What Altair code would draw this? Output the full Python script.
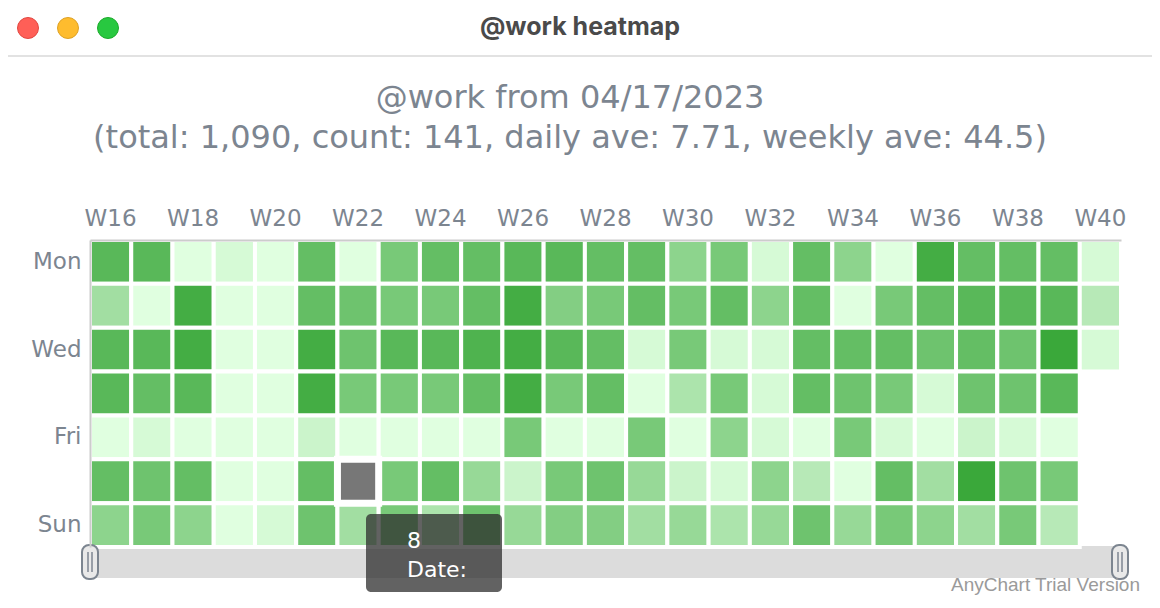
import altair as alt
import pandas as pd

weeks = ["W16", "W17", "W18", "W19", "W20", "W21", "W22", "W23", "W24", "W25",
         "W26", "W27", "W28", "W29", "W30", "W31", "W32", "W33", "W34", "W35",
         "W36", "W37", "W38", "W39", "W40"]
week_labels = ["W16", "W18", "W20", "W22", "W24", "W26", "W28", "W30", "W32",
               "W34", "W36", "W38", "W40"]
days = ["Mon", "Tue", "Wed", "Thu", "Fri", "Sat", "Sun"]
day_labels = ["Mon", "Wed", "Fri", "Sun"]

mon = [13, 13, 0, 1, 0, 12, 0, 10, 12, 12, 13, 13, 12, 12, 8, 10, 1, 12, 8, 0, 15, 12, 12, 12, 1]
tue = [6, 0, 15, 0, 0, 12, 11, 10, 10, 12, 15, 9, 10, 12, 10, 12, 8, 12, 0, 10, 12, 13, 13, 13, 4]
wed = [13, 13, 15, 0, 0, 15, 11, 13, 13, 14, 15, 13, 12, 1, 10, 1, 1, 12, 12, 12, 11, 12, 11, 16, 1]
thu = [13, 12, 13, 0, 0, 15, 10, 10, 10, 12, 15, 10, 12, 0, 5, 10, 1, 12, 11, 10, 1, 11, 11, 13, None]
fri = [0, 1, 0, 0, 0, 2, 0, 0, 0, 0, 10, 0, 0, 10, 0, 8, 1, 0, 10, 1, 0, 2, 1, 0, None]
sat = [12, 11, 12, 0, 0, 12, 8, 10, 12, 7, 2, 10, 11, 7, 2, 1, 8, 4, 0, 12, 6, 16, 11, 10, None]
sun = [8, 10, 8, 0, 1, 11, 6, 10, 5, 11, 7, 9, 9, 6, 7, 5, 7, 11, 7, 10, 8, 6, 10, 4, None]

hover_week = "W22"
hover_day = "Sat"

title_bar = "@work heatmap"
title_1 = "@work from 04/17/2023"
title_2 = "(total: 1,090, count: 141, daily ave: 7.71, weekly ave: 44.5)"
tooltip_lines = ["8", "Date:"]
watermark = "AnyChart Trial Version"

series = dict(zip(days, [mon, tue, wed, thu, fri, sat, sun]))
rows = []
for d in days:
    for w, v in zip(weeks, series[d]):
        if v is not None:
            rows.append({"week": w, "day": d, "value": v})
df = pd.DataFrame(rows)

X0, Y0 = 90, 240          # page position of plot origin
W, H = 1031, 307
GRAY = "#7c8590"
FONT = "DejaVu Sans"


def one():
    return pd.DataFrame({"k": [0]})


def rect_px(x1, x2, y1, y2, **kw):
    return alt.Chart(one()).mark_rect(**kw).encode(
        x=alt.value(x1 - X0), x2=alt.value(x2 - X0),
        y=alt.value(y1 - Y0), y2=alt.value(y2 - Y0))


def hrule_px(x1, x2, y, **kw):
    return alt.Chart(one()).mark_rule(**kw).encode(
        x=alt.value(x1 - X0), x2=alt.value(x2 - X0), y=alt.value(y - Y0))


def vrule_px(x, y1, y2, **kw):
    return alt.Chart(one()).mark_rule(**kw).encode(
        x=alt.value(x - X0), y=alt.value(y1 - Y0), y2=alt.value(y2 - Y0))


def text_px(s, x, y, **kw):
    return alt.Chart(pd.DataFrame({"t": [s]})).mark_text(
        baseline="alphabetic", **kw).encode(
        x=alt.value(x - X0), y=alt.value(y - Y0), text="t:N")


def circle_px(x, y, fill, stroke):
    return alt.Chart(one()).mark_circle(size=440, color=fill, opacity=1,
                                        stroke=stroke, strokeWidth=1).encode(
        x=alt.value(x - X0), y=alt.value(y - Y0))


x_enc = alt.X("week:O", sort=weeks,
              scale=alt.Scale(domain=weeks, paddingInner=0, paddingOuter=0),
              axis=alt.Axis(orient="top", title=None, values=week_labels,
                            labelAngle=0, ticks=False, grid=False,
                            domainColor="#cccccc", domainWidth=2,
                            labelFont=FONT, labelFontSize=23,
                            labelColor=GRAY, labelPadding=10))
y_enc = alt.Y("day:O", sort=days,
              scale=alt.Scale(domain=days, paddingInner=0, paddingOuter=0),
              axis=alt.Axis(orient="left", title=None, values=day_labels,
                            ticks=False, grid=False,
                            domainColor="#cccccc", domainWidth=2,
                            labelFont=FONT, labelFontSize=23,
                            labelColor=GRAY, labelPadding=9))

heat = alt.Chart(df).mark_rect(stroke="white", strokeWidth=4).encode(
    x=x_enc, y=y_enc,
    color=alt.Color("value:Q",
                    scale=alt.Scale(domain=[0, 16],
                                    range=["#e0ffe0", "#3aa83a"],
                                    interpolate="rgb"),
                    legend=None))

hover = alt.Chart(df).transform_filter(
    (alt.datum.week == hover_week) & (alt.datum.day == hover_day)
).mark_rect(fill="#777777", stroke="white", strokeWidth=7).encode(
    x=alt.X("week:O", sort=weeks), y=alt.Y("day:O", sort=days))

layers = [
    # window chrome
    hrule_px(8, 1152, 56, color="#d9d9d9", strokeWidth=1.5),
    circle_px(28, 28, "#ff5f57", "#e2463f"),
    circle_px(68, 28, "#febc2e", "#dea123"),
    circle_px(108, 28, "#28c840", "#1aab29"),
    text_px(title_bar, 580, 35, font="Inter", fontSize=25, fontWeight="bold",
            color="#4a4a4a", align="center"),
    # chart titles
    text_px(title_1, 570, 108, font=FONT, fontSize=32, color=GRAY,
            align="center"),
    text_px(title_2, 570, 148, font=FONT, fontSize=32, color=GRAY,
            align="center"),
    # scrollbar
    rect_px(92, 1120, 546, 578, fill="#dcdcdc"),
    heat,
    hover,
    rect_px(82, 98, 545, 579, fill="#e9e9e9", stroke=GRAY, strokeWidth=2,
            cornerRadius=7),
    vrule_px(88, 552, 572, color=GRAY, strokeWidth=1.5),
    vrule_px(92, 552, 572, color=GRAY, strokeWidth=1.5),
    rect_px(1112, 1128, 545, 579, fill="#e9e9e9", stroke=GRAY, strokeWidth=2,
            cornerRadius=7),
    vrule_px(1118, 552, 572, color=GRAY, strokeWidth=1.5),
    vrule_px(1122, 552, 572, color=GRAY, strokeWidth=1.5),
    text_px(watermark, 1140, 591, font="Liberation Sans", fontSize=19,
            color="#9a9a9a", align="right"),
    # tooltip
    rect_px(366, 502, 514, 592, fill="#2d2d2d", fillOpacity=0.75,
            cornerRadius=5),
    text_px(tooltip_lines[0], 407, 548, font=FONT, fontSize=22,
            color="white", align="left"),
    text_px(tooltip_lines[1], 407, 577, font=FONT, fontSize=22,
            color="white", align="left"),
]

chart = alt.layer(*layers).properties(
    width=W, height=H,
    autosize=alt.AutoSizeParams(type="none"),
    padding={"left": X0 - 8, "top": Y0 - 8,
             "right": 1144 - (X0 - 8) - W, "bottom": 592 - (Y0 - 8) - H},
    background="white",
).configure_view(strokeWidth=0)

chart.save("out.html", embed_options={"renderer": "svg", "actions": False})
